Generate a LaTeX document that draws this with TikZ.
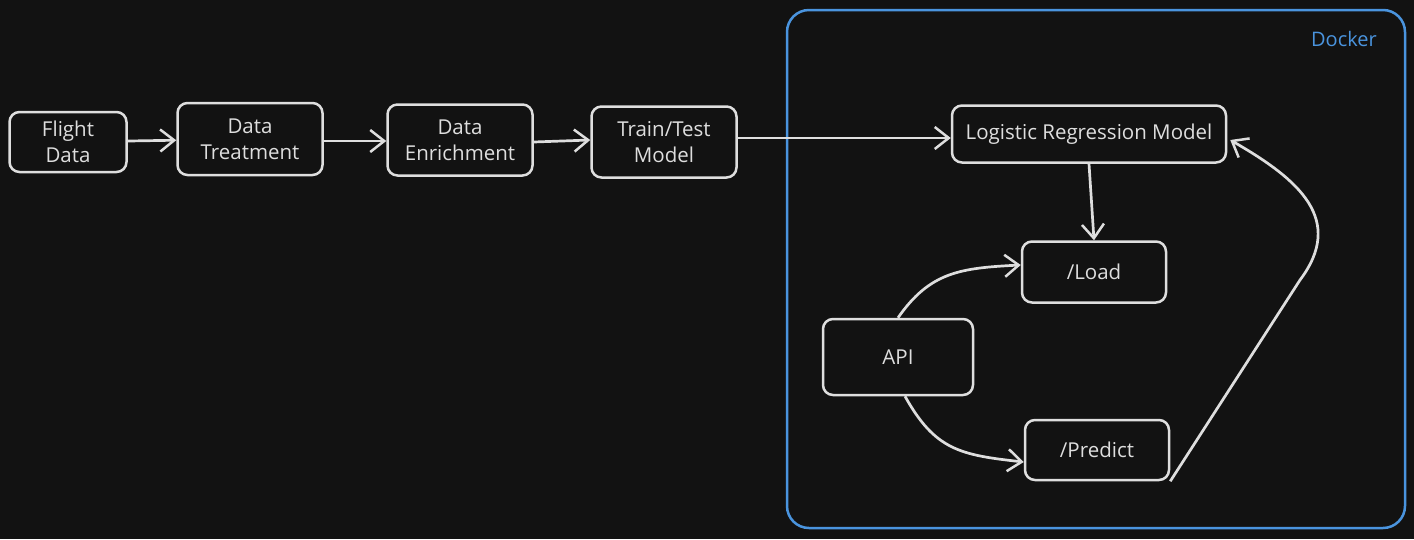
\documentclass[tikz,border=0pt]{standalone}
\usepackage{fontspec}
\setmainfont{Open Sans}
\usepackage{tikz}
\usetikzlibrary{arrows.meta,calc,positioning}
\definecolor{my_bg}{RGB}{18, 18, 18}
\definecolor{my_line}{RGB}{222, 222, 222}
\definecolor{my_blue}{RGB}{74, 148, 222}
\tikzset{
  procbox/.style = {draw=my_line, line width=2.5pt, rounded corners=10pt, align=center,
  text=my_line, inner sep=0pt, font=\fontsize{20.5pt}{26pt}\selectfont},
  dockerbox/.style = {draw=my_blue, line width=2.5pt, rounded corners=22pt, inner sep=0pt},
  flow/.style = {draw=my_line, line width=2.7pt, -{Straight Barb[length=14pt,width=22pt,line width=2.5pt]}}
}

\begin{document}
\begin{tikzpicture}[x=1pt,y=-1pt]
    \fill[my_bg] (0,0) rectangle (1414,539);
    \useasboundingbox (0,0) rectangle (1414,539);
    % container
    \node [dockerbox, minimum width=618pt, minimum height=518pt] (docker) at (1096,269) {};
    \node [anchor=east, text=my_blue, inner sep=0pt, font=\fontsize{20pt}{24pt}\selectfont] (dockerlbl) at (1377,39) {Docker};
    % pipeline
    \node [procbox, minimum width=117pt, minimum height=60pt] (flight) at (68,142) {Flight\\Data};
    \node [procbox, minimum width=145pt, minimum height=72pt] (treat) at (250,139) {Data\\Treatment};
    \node [procbox, minimum width=145pt, minimum height=71pt] (enrich) at (460,140) {Data\\Enrichment};
    \node [procbox, minimum width=145pt, minimum height=71pt] (train) at (664,142) {Train/Test\\Model};
    % inside docker
    \node [procbox, minimum width=274pt, minimum height=57pt] (lrm) at (1089,134) {Logistic Regression Model};
    \node [procbox, minimum width=144pt, minimum height=61pt] (load) at (1094,272) {/Load};
    \node [procbox, minimum width=150pt, minimum height=76pt] (api) at (898,357) {API};
    \node [procbox, minimum width=144pt, minimum height=60pt] (predict) at (1097,450) {/Predict};
    % connectors
    \draw [flow] (flight) -- (treat);
    \draw [flow] ([yshift=-2pt]treat.east) -- ([yshift=-1pt]enrich.west);
    \draw [flow] ([yshift=-2pt]enrich.east) -- (enrich.east -| train.west);
    \draw [flow] ([yshift=4pt]train.east) -- ([yshift=-4pt]lrm.west);
    \draw [flow] (lrm.south) -- (load.north);
    \draw [flow] (api.north) .. controls (930,272) and (960,268) .. ([yshift=7pt]load.west);
    \draw [flow] ([xshift=7pt]api.south) .. controls (935,450) and (960,455) .. ([yshift=-12pt]predict.west);
    \draw [flow] (predict.south east) -- (1300,280) .. controls (1345,220) and (1300,180) .. ([xshift=3pt,yshift=-6pt]lrm.east);
\end{tikzpicture}
\end{document}
